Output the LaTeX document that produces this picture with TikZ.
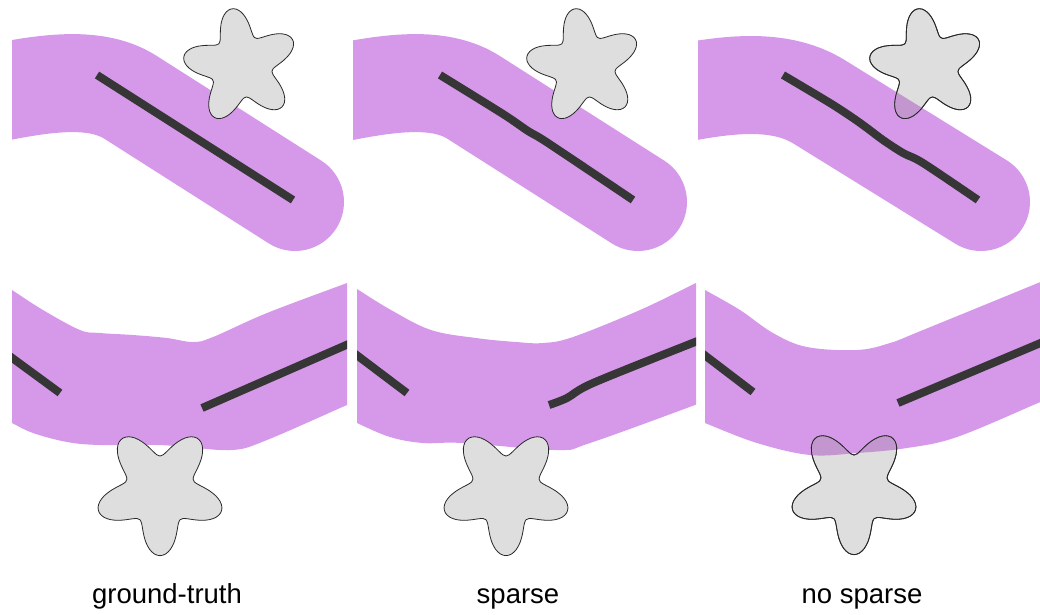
\documentclass[tikz,border=0pt]{standalone}
\usepackage{fontspec}
\setmainfont{Liberation Sans}
\usepackage{tikz}

% smooth five-lobed obstacle: centre x, centre y, tip angle, scale
\newcommand{\starblob}[4]{plot[smooth cycle, domain=0:355, samples=72] ({#1+#4*(47+14*cos(5*(\x-#3)))*cos(\x)}, {#2-#4*(47+14*cos(5*(\x-#3)))*sin(\x)})}

\begin{document}
\begin{tikzpicture}[x=1pt, y=-1pt, font=\fontsize{27.5}{30}\selectfont,
  band/.style={line width=98pt, line cap=round, draw={rgb,255:red,214;green,153;blue,234}},
  bandfill/.style={fill={rgb,255:red,214;green,153;blue,234}},
  traj/.style={line width=8pt, draw={rgb,255:red,54;green,54;blue,54}},
  obstacle/.style={fill={rgb,255:red,222;green,222;blue,222}, draw={rgb,255:red,40;green,40;blue,40}, line width=0.8pt}]
\useasboundingbox (0,0) rectangle (1040,614);

% top row
\begin{scope}
\begin{scope}
\clip (12,0) rectangle (350,280);
\draw[band] (-30,98) .. controls (30,86) and (90,72) .. (130,97) -- (295,202);
\draw[traj] (97,75) -- (293,200);
\end{scope}
\filldraw[obstacle] \starblob{241}{66}{99}{0.95};
\end{scope}

\begin{scope}[xshift=343pt]
\begin{scope}
\clip (10,0) rectangle (350,280);
\draw[band] (-30,98) .. controls (30,86) and (90,72) .. (130,97) -- (295,202);
\draw[traj] plot[smooth] coordinates {(97,75) (160,114) (185,131) (205,143) (290,200)};
\end{scope}
\filldraw[obstacle] \starblob{241}{66}{99}{0.95};
\end{scope}

\begin{scope}[xshift=686pt]
\begin{scope}
\clip (12,0) rectangle (354,280);
\draw[band] (-30,98) .. controls (30,86) and (90,74) .. (135,103) -- (295,202);
\draw[traj] plot[smooth] coordinates {(97,75) (144,103) (167,118) (181,128) (197,140) (217,153) (237,163) (292,200)};
\end{scope}
\filldraw[obstacle] \starblob{241}{66}{99}{0.95};
\begin{scope}
\clip \starblob{241}{66}{99}{0.95};
\draw[band, draw={rgb,255:red,196;green,150;blue,208}] (-30,98) .. controls (30,86) and (90,74) .. (135,103) -- (295,202);
\end{scope}
\draw[obstacle, fill=none] \starblob{241}{66}{99}{0.95};
\end{scope}

% bottom row
\begin{scope}
\begin{scope}
\clip (12,270) rectangle (347,570);
\fill[bandfill] plot[smooth, tension=0.6] coordinates {(0,282) (12,290) (43,310) (80,330) (100,333) (133,335) (167,338) (193,342) (213,337) (267,313) (347,283) (360,278)}
  -- plot[smooth, tension=0.6] coordinates {(360,400) (347,405) (267,440) (233,450) (187,447) (157,445) (100,445) (67,442) (33,433) (12,423) (0,417)} -- cycle;
\draw[traj] (0,349) -- (60,393);
\draw[traj] (202,408) -- (360,339);
\end{scope}
\filldraw[obstacle] \starblob{160}{491}{270}{1.06};
\end{scope}

\begin{scope}[xshift=346pt]
\begin{scope}
\clip (11,270) rectangle (350,570);
\fill[bandfill] plot[smooth, tension=0.6] coordinates {(0,282) (11,289) (45,310) (85,330) (130,338) (170,342) (197,343) (227,337) (294,310) (350,283) (360,279)}
  -- plot[smooth, tension=0.6] coordinates {(360,400) (349,405) (244,443) (211,450) (117,443) (77,443) (44,437) (11,423) (0,417)} -- cycle;
\draw[traj] (0,347) -- (61,393);
\draw[traj] plot[smooth] coordinates {(203,405) (221,398) (247,383) (349,342) (360,338)};
\end{scope}
\filldraw[obstacle] \starblob{160}{491}{270}{1.06};
\end{scope}

\begin{scope}[xshift=694pt]
\begin{scope}
\clip (11,270) rectangle (350,570);
\fill[bandfill] plot[smooth, tension=0.6] coordinates {(-4,282) (11,290) (46,310) (79,333) (113,347) (163,350) (196,343) (229,330) (344,283) (356,278)}
  -- plot[smooth, tension=0.6] coordinates {(356,398) (344,403) (263,437) (213,448) (163,453) (116,455) (63,443) (11,423) (-4,416)} -- cycle;
\draw[traj] (-4,344) -- (59,392);
\draw[traj] (204,403) -- (356,339);
\end{scope}
\filldraw[obstacle] \starblob{160}{490}{270}{1.06};
\begin{scope}
\clip \starblob{160}{490}{270}{1.06};
\fill[fill={rgb,255:red,196;green,150;blue,208}] plot[smooth, tension=0.6] coordinates {(-4,282) (11,290) (46,310) (79,333) (113,347) (163,350) (196,343) (229,330) (344,283) (356,278)}
  -- plot[smooth, tension=0.6] coordinates {(356,398) (344,403) (263,437) (213,448) (163,453) (116,455) (63,443) (11,423) (-4,416)} -- cycle;
\end{scope}
\draw[obstacle, fill=none] \starblob{160}{490}{270}{1.06};
\end{scope}

% captions
\node[anchor=base] (gt) at (167,603) {ground-truth};
\node[anchor=base] (sp) at (518,603) {sparse};
\node[anchor=base] (nsp) at (862,603) {no sparse};

\end{tikzpicture}
\end{document}
